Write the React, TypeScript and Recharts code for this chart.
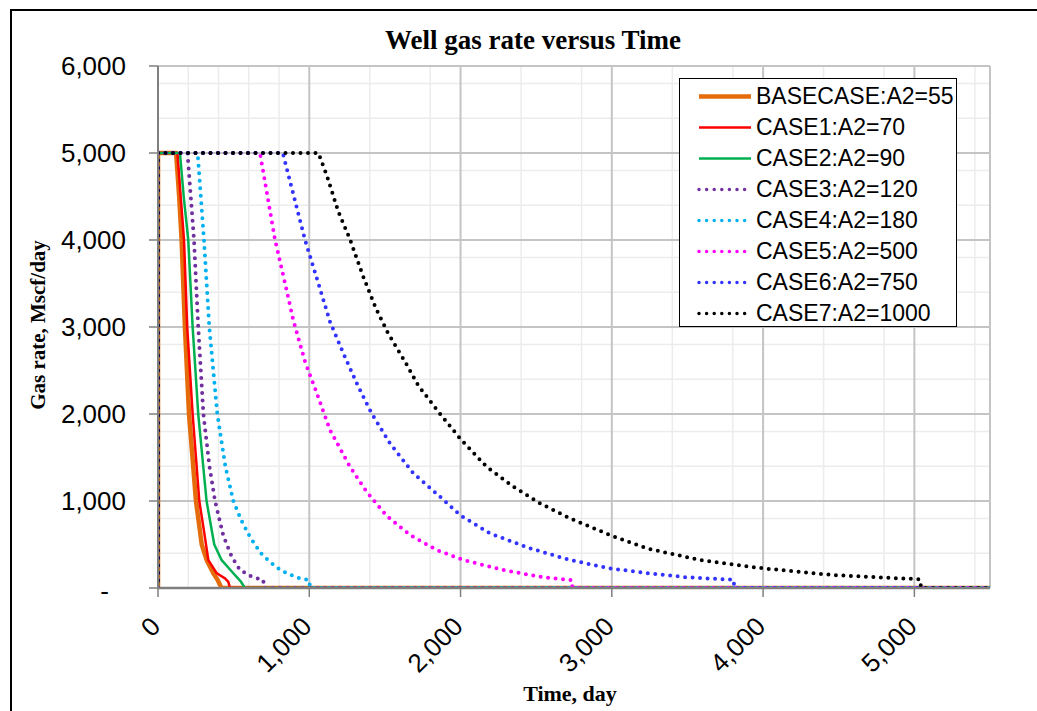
import { LineChart, Line, XAxis, YAxis, CartesianGrid } from 'recharts';

// time (day) / gas rate (Mscf/day)
const baseT = [0, 0, 120, 140, 156, 178, 205, 251, 289, 322, 366, 395, 410, 421, 5500];
const baseQ = [0, 5000, 5000, 4500, 4000, 3000, 2000, 1000, 500, 320, 170, 90, 35, 0, 0];
const case1T = [0, 0, 128, 150, 172, 193, 229, 273, 300, 333, 388, 443, 465, 476, 5500];
const case1Q = [0, 5000, 5000, 4500, 4000, 3000, 2000, 1000, 700, 320, 170, 110, 70, 0, 0];
const case2T = [0, 0, 145, 170, 200, 229, 266, 321, 372, 421, 498, 545, 575, 5500];
const case2Q = [0, 5000, 5000, 4500, 4000, 3000, 2000, 1000, 500, 320, 170, 80, 0, 0];
const case3T = [0, 0, 195, 238, 266, 300, 340, 377, 432, 487, 542, 619, 696, 700, 5500];
const case3Q = [0, 5000, 5000, 4000, 3000, 2000, 1400, 1000, 600, 360, 207, 130, 92, 0, 0];
const case4T = [0, 0, 262, 304, 339, 392, 445, 498, 550, 610, 680, 740, 800, 850, 920, 1000, 1005, 5500];
const case4Q = [0, 5000, 5000, 4000, 3000, 2000, 1400, 1000, 780, 580, 400, 300, 220, 170, 120, 90, 0, 0];
const case5T = [0, 0, 674, 773, 850, 894, 972, 1038, 1137, 1269, 1379, 1512, 1666, 1842, 2018, 2282, 2547, 2734, 2740, 5500];
const case5Q = [0, 5000, 5000, 4008, 3425, 3080, 2601, 2295, 1816, 1394, 1107, 828, 609, 437, 322, 207, 123, 92, 0, 0];
const case6T = [0, 0, 825, 972, 1060, 1137, 1225, 1324, 1412, 1533, 1688, 1864, 1996, 2194, 2459, 2723, 2987, 3208, 3494, 3805, 3810, 5500];
const case6Q = [0, 5000, 5000, 4000, 3502, 3061, 2698, 2314, 2008, 1663, 1318, 1050, 839, 628, 456, 322, 226, 176, 123, 95, 0, 0];
const case7T = [0, 0, 1060, 1115, 1192, 1269, 1357, 1440, 1520, 1633, 1721, 1853, 1996, 2172, 2349, 2525, 2723, 2987, 3230, 3582, 3999, 4461, 5036, 5045, 5500];
const case7Q = [0, 5000, 5000, 4747, 4326, 4008, 3578, 3215, 2930, 2601, 2326, 2027, 1720, 1394, 1165, 973, 801, 609, 456, 322, 226, 149, 100, 0, 0];

const xTicks = [0, 1000, 2000, 3000, 4000, 5000];
const yTicks = [0, 1000, 2000, 3000, 4000, 5000, 6000];
const xMajor = [0, 1000, 2000, 3000, 4000, 5000, 5500];
const xMinor = Array.from({ length: 27 }, (_, i) => (i + 1) * 200).filter(v => v % 1000 !== 0);
const yMinor = Array.from({ length: 29 }, (_, i) => (i + 1) * 200).filter(v => v % 1000 !== 0);

const pts = (t: number[], q: number[]) => t.map((v, i) => ({ t: v, q: q[i] }));

const series = [
  { name: 'BASECASE:A2=55', color: '#E46C0A', width: 4.5, dotted: false, data: pts(baseT, baseQ) },
  { name: 'CASE1:A2=70', color: '#FF0000', width: 2.5, dotted: false, data: pts(case1T, case1Q) },
  { name: 'CASE2:A2=90', color: '#00B050', width: 2.5, dotted: false, data: pts(case2T, case2Q) },
  { name: 'CASE3:A2=120', color: '#7030A0', width: 4, dotted: true, data: pts(case3T, case3Q) },
  { name: 'CASE4:A2=180', color: '#00B0F0', width: 4, dotted: true, data: pts(case4T, case4Q) },
  { name: 'CASE5:A2=500', color: '#FF00FF', width: 4, dotted: true, data: pts(case5T, case5Q) },
  { name: 'CASE6:A2=750', color: '#3333FF', width: 4, dotted: true, data: pts(case6T, case6Q) },
  { name: 'CASE7:A2=1000', color: '#000000', width: 4, dotted: true, data: pts(case7T, case7Q) },
];

const SANS = '"Liberation Sans", Arial, sans-serif';
const SERIF = '"Liberation Serif", "Times New Roman", serif';

const fmt = (v: number) => (v === 0 ? '-' : v.toLocaleString('en-US'));

const YTick = ({ x, y, payload }: any) => (
  <text x={payload.value === 0 ? x - 17 : x} y={payload.value === 0 ? y + 3 : y} textAnchor="end"
    dominantBaseline="central" fontSize={26} fontFamily={SANS} fill="#000">
    {fmt(payload.value)}
  </text>
);

const XTick = ({ x, y, payload }: any) => (
  <text x={x + 4} y={y} transform={`rotate(-45 ${x + 4} ${y})`} textAnchor="end"
    fontSize={26} fontFamily={SANS} fill="#000">
    {payload.value.toLocaleString('en-US')}
  </text>
);

export default function App() {
  return (
    <div style={{ position: 'absolute', left: 0, top: 0, width: 1037, height: 711, overflow: 'hidden', background: '#fff' }}>
      <div style={{ position: 'absolute', left: 10, top: 9, width: 1100, height: 800, border: '2px solid #000' }} />

      <div style={{ position: 'absolute', left: 0, top: 27, width: 1066, textAlign: 'center', fontFamily: SERIF, fontWeight: 'bold', fontSize: 27, lineHeight: '27px' }}>
        Well gas rate versus Time
      </div>

      <div style={{ position: 'absolute', left: 38 - 150, top: 325 - 12, width: 300, height: 24, lineHeight: '24px', textAlign: 'center', transform: 'rotate(-90deg)', fontFamily: SERIF, fontWeight: 'bold', fontSize: 21 }}>
        Gas rate, Mscf/day
      </div>

      <div style={{ position: 'absolute', left: 470, top: 683, width: 200, textAlign: 'center', fontFamily: SERIF, fontWeight: 'bold', fontSize: 22, lineHeight: '22px' }}>
        Time, day
      </div>

      <div style={{ position: 'absolute', left: 0, top: 0 }}>
        <LineChart width={1037} height={711} margin={{ top: 66, right: 47, left: 0, bottom: 0 }}>
          <CartesianGrid stroke="#ececec" strokeWidth={1.5} horizontalValues={yMinor} verticalValues={xMinor} />
          <CartesianGrid stroke="#c4c4c4" strokeWidth={2} horizontalValues={yTicks} verticalValues={xMajor} />
          <XAxis type="number" dataKey="t" domain={[0, 5500]} ticks={xTicks} allowDataOverflow
            height={123} tickSize={9} tickMargin={31} tick={<XTick />}
            axisLine={{ stroke: '#7f7f7f', strokeWidth: 2.5 }} tickLine={{ stroke: '#7f7f7f', strokeWidth: 1.5 }} />
          <YAxis type="number" domain={[0, 6000]} ticks={yTicks} allowDataOverflow
            width={158} tickSize={9} tickMargin={23} tick={<YTick />}
            axisLine={{ stroke: '#7f7f7f', strokeWidth: 2 }} tickLine={{ stroke: '#7f7f7f', strokeWidth: 1.5 }} />
          {series.map(s => (
            <Line key={s.name} data={s.data} dataKey="q" type="linear" dot={false} activeDot={false}
              stroke={s.color} strokeWidth={s.width} strokeLinecap="round" strokeLinejoin="round"
              strokeDasharray={s.dotted ? '0 7.5' : undefined} isAnimationActive={false} />
          ))}
        </LineChart>
      </div>

      <div style={{ position: 'absolute', left: 679, top: 78, width: 278, height: 249, border: '1.5px solid #000', background: '#fff', boxSizing: 'border-box' }}>
        {series.map((s, i) => (
          <div key={s.name} style={{ position: 'absolute', left: 0, top: 2 + i * 31, height: 31, display: 'flex', alignItems: 'center' }}>
            <svg width={76} height={31} style={{ display: 'block' }}>
              <line x1={19} y1={15.5} x2={71} y2={15.5} stroke={s.color} strokeWidth={s.dotted ? 3.5 : s.width}
                strokeLinecap={s.dotted ? 'round' : 'butt'} strokeDasharray={s.dotted ? '0 7.6' : undefined} />
            </svg>
            <span style={{ fontFamily: SANS, fontSize: 23, whiteSpace: 'nowrap', color: '#000' }}>{s.name}</span>
          </div>
        ))}
      </div>
    </div>
  );
}
